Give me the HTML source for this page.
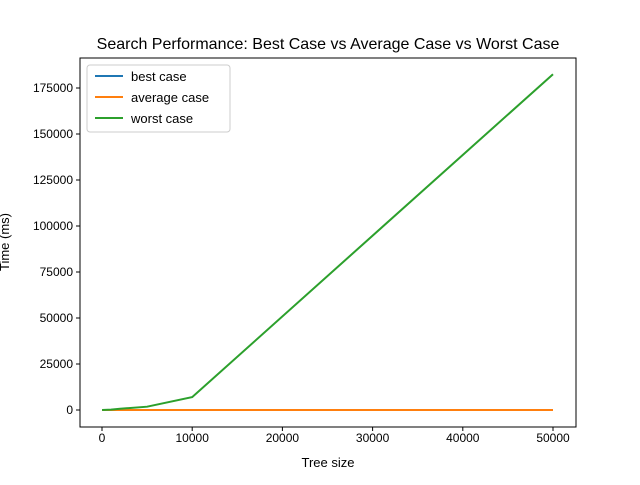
<!DOCTYPE html>
<html><head><meta charset="utf-8"><style>
body{margin:0;background:#fff;font-family:"Liberation Sans","DejaVu Sans",sans-serif}
</style></head><body>
<svg id="c" width="640" height="480" xmlns="http://www.w3.org/2000/svg"></svg>
<script>
const sizes=[10,1000,2000,5000,10000,50000];
const bestCase=[1,1,1,1,1,1];
const averageCase=[5,10,11,13,14,16];
const worstCase=[5,180,700,1800,7000,182500];
const xTicks=[0,10000,20000,30000,40000,50000];
const yTicks=[0,25000,50000,75000,100000,125000,150000,175000];
const L=80,R=576,T=58,B=427;
const X=v=>102+(v/50000)*451;
const Y=v=>410-(v/175000)*322;
const svg=document.getElementById('c');
const NS='http://www.w3.org/2000/svg';
function mk(t,a,p){const e=document.createElementNS(NS,t);for(const k in a)e.setAttribute(k,a[k]);(p||svg).appendChild(e);return e;}
function txt(s,a){const e=mk('text',a);e.textContent=s;return e;}
const title=txt('Search Performance: Best Case vs Average Case vs Worst Case',{x:328,y:49,'text-anchor':'middle','font-size':16,fill:'#000'});


const series=[[bestCase,'#1f77b4','best-case-line'],[averageCase,'#ff7f0e','average-case-line'],[worstCase,'#2ca02c','worst-case-line']];
series.forEach(([d,c,n])=>{const p=mk('polyline',{points:d.map((v,i)=>X(sizes[i])+','+Y(v)).join(' '),fill:'none',stroke:c,'stroke-width':2});

});
const frame=mk('rect',{x:L,y:T,width:R-L,height:B-T,fill:'none',stroke:'#000','stroke-width':1});


xTicks.forEach(v=>{mk('line',{x1:X(v),x2:X(v),y1:B,y2:B+4,stroke:'#000'});const t=txt(String(v),{x:X(v),y:B+15,'text-anchor':'middle','font-size':12});

});
yTicks.forEach(v=>{mk('line',{x1:L-4,x2:L,y1:Y(v),y2:Y(v),stroke:'#000'});const t=txt(String(v),{x:L-7,y:Y(v)+4,'text-anchor':'end','font-size':12});

});
const xl=txt('Tree size',{x:328,y:467,'text-anchor':'middle','font-size':13});


const yl=txt('Time (ms)',{x:9,y:242,'text-anchor':'middle','font-size':13,transform:'rotate(-90 9 242)'});


const lg=mk('rect',{x:87,y:65,width:143,height:67,rx:3,fill:'#fff',stroke:'#ccc'});


[['best case','#1f77b4'],['average case','#ff7f0e'],['worst case','#2ca02c']].forEach(([n,c],i)=>{const y=76+i*21;
mk('line',{x1:95,x2:123,y1:y,y2:y,stroke:c,'stroke-width':2});
const t=txt(n,{x:131,y:y+5,'font-size':13});

});
</script>
</body></html>
